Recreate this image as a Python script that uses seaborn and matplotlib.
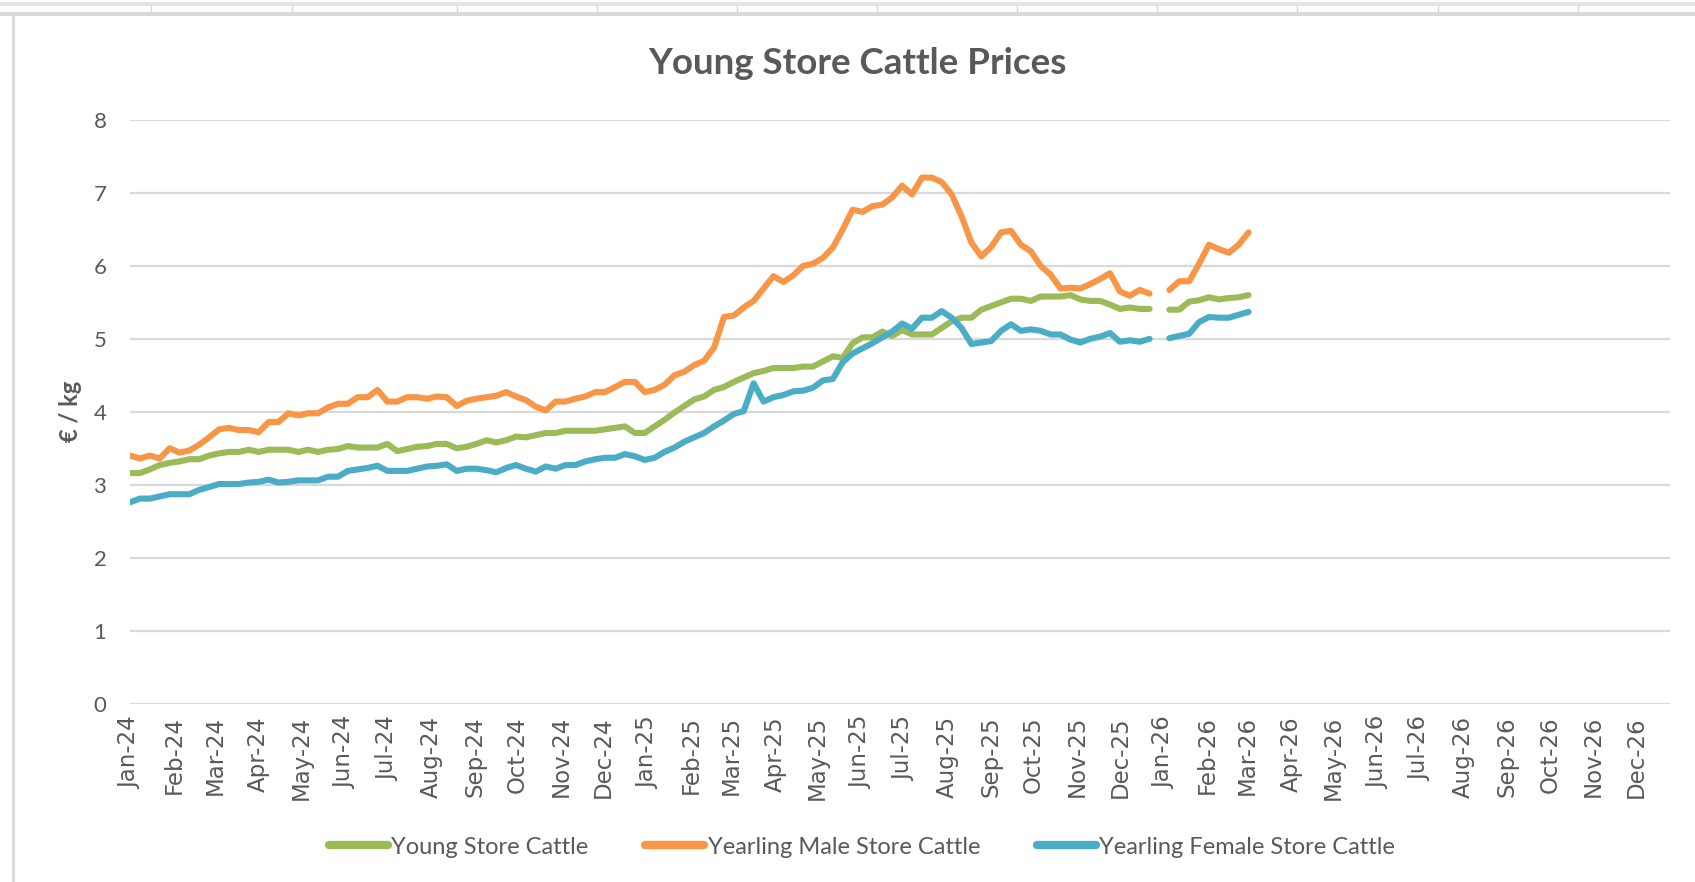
import pandas as pd
import matplotlib
matplotlib.use("Agg")
import matplotlib.pyplot as plt
import matplotlib.dates as mdates
from matplotlib.lines import Line2D
import seaborn as sns

# weekly prices (EUR/kg); first run from Jan-2024 to late Dec-2025, second run from Jan-2026
start_run1 = "2024-01-01"
start_run2 = "2026-01-05"

young_run1 = [
    3.16, 3.16, 3.21, 3.27, 3.30, 3.32, 3.35, 3.35, 3.40, 3.43,
    3.45, 3.45, 3.48, 3.45, 3.48, 3.48, 3.48, 3.45, 3.48, 3.45,
    3.48, 3.49, 3.53, 3.51, 3.51, 3.51, 3.56, 3.46, 3.49, 3.52,
    3.53, 3.56, 3.56, 3.50, 3.52, 3.56, 3.61, 3.58, 3.61, 3.66,
    3.65, 3.68, 3.71, 3.71, 3.74, 3.74, 3.74, 3.74, 3.76, 3.78,
    3.80, 3.71, 3.71, 3.80, 3.89, 3.99, 4.08, 4.17, 4.21, 4.30,
    4.34, 4.41, 4.47, 4.53, 4.56, 4.60, 4.60, 4.60, 4.62, 4.62,
    4.69, 4.76, 4.74, 4.94, 5.02, 5.02, 5.10, 5.04, 5.12, 5.06,
    5.06, 5.06, 5.15, 5.24, 5.29, 5.29, 5.40, 5.45, 5.50, 5.55,
    5.55, 5.52, 5.58, 5.58, 5.58, 5.60, 5.54, 5.52, 5.52, 5.47,
    5.41, 5.43, 5.41, 5.41,
]
young_run2 = [5.40, 5.40, 5.51, 5.53, 5.57, 5.54, 5.56, 5.57, 5.60]

male_run1 = [
    3.40, 3.36, 3.40, 3.36, 3.50, 3.44, 3.47, 3.55, 3.65, 3.76,
    3.78, 3.75, 3.75, 3.72, 3.86, 3.86, 3.98, 3.95, 3.98, 3.98,
    4.06, 4.11, 4.11, 4.20, 4.20, 4.30, 4.14, 4.14, 4.20, 4.20,
    4.18, 4.21, 4.20, 4.08, 4.15, 4.18, 4.20, 4.22, 4.27, 4.21,
    4.16, 4.07, 4.02, 4.14, 4.14, 4.18, 4.21, 4.27, 4.27, 4.34,
    4.41, 4.41, 4.27, 4.30, 4.37, 4.50, 4.55, 4.64, 4.70, 4.88,
    5.30, 5.32, 5.43, 5.52, 5.69, 5.86, 5.78, 5.87, 6.00, 6.03,
    6.11, 6.25, 6.50, 6.77, 6.74, 6.82, 6.84, 6.94, 7.10, 6.98,
    7.21, 7.21, 7.15, 6.98, 6.68, 6.32, 6.13, 6.26, 6.46, 6.48,
    6.29, 6.20, 6.00, 5.88, 5.69, 5.70, 5.69, 5.75, 5.82, 5.90,
    5.65, 5.59, 5.67, 5.62,
]
male_run2 = [5.67, 5.79, 5.79, 6.03, 6.29, 6.23, 6.18, 6.29, 6.46]

female_run1 = [
    2.76, 2.81, 2.81, 2.84, 2.87, 2.87, 2.87, 2.93, 2.97, 3.01,
    3.01, 3.01, 3.03, 3.04, 3.07, 3.03, 3.04, 3.06, 3.06, 3.06,
    3.11, 3.11, 3.19, 3.21, 3.23, 3.26, 3.19, 3.19, 3.19, 3.22,
    3.25, 3.26, 3.28, 3.19, 3.22, 3.22, 3.20, 3.17, 3.23, 3.27,
    3.22, 3.18, 3.25, 3.22, 3.27, 3.27, 3.32, 3.35, 3.37, 3.37,
    3.42, 3.39, 3.34, 3.37, 3.45, 3.51, 3.59, 3.65, 3.71, 3.80,
    3.88, 3.97, 4.01, 4.39, 4.14, 4.20, 4.23, 4.28, 4.29, 4.33,
    4.43, 4.45, 4.68, 4.80, 4.87, 4.94, 5.02, 5.10, 5.21, 5.14,
    5.29, 5.29, 5.38, 5.29, 5.15, 4.93, 4.95, 4.97, 5.11, 5.20,
    5.11, 5.13, 5.11, 5.06, 5.06, 4.99, 4.95, 5.00, 5.03, 5.08,
    4.96, 4.98, 4.96, 5.00,
]
female_run2 = [5.01, 5.04, 5.07, 5.23, 5.30, 5.29, 5.29, 5.33, 5.37]

series_names = ["Young Store Cattle", "Yearling Male Store Cattle", "Yearling Female Store Cattle"]
series_colors = ["#9BBB59", "#F79646", "#4BACC6"]
y_ticks = [0, 1, 2, 3, 4, 5, 6, 7, 8]

TEXT_GREY = "#595959"
GRID_GREY = "#D9D9D9"

# long table, one "run" id per unbroken stretch so the holiday gap stays open
rows = []
for name, run1, run2 in zip(series_names,
                            [young_run1, male_run1, female_run1],
                            [young_run2, male_run2, female_run2]):
    for run_id, start, vals in [(1, start_run1, run1), (2, start_run2, run2)]:
        dates = pd.date_range(start, periods=len(vals), freq="7D")
        for d, v in zip(dates, vals):
            rows.append({"date": d, "price": v, "series": name, "run": run_id})
df = pd.DataFrame(rows)

sns.set_theme(style="white")
plt.rcParams["font.family"] = ["Lato", "DejaVu Sans"]

W, H = 1695, 882
fig = plt.figure(figsize=(W / 100, H / 100), dpi=100)
fig.patch.set_facecolor("white")

# axes box in pixels: left 130, right 1670, top 120, bottom 703.6
ax = fig.add_axes([130 / W, 1 - 703.6 / H, (1670 - 130) / W, (703.6 - 120) / H])

sns.lineplot(data=df, x="date", y="price", hue="series", units="run", estimator=None,
             hue_order=series_names, palette=series_colors, lw=4.4, legend=False, ax=ax)
for ln in ax.lines:
    ln.set_solid_capstyle("round")
    ln.set_solid_joinstyle("round")

ax.set_ylim(0, 8)
ax.set_xlim(pd.Timestamp("2024-01-01"), pd.Timestamp("2026-12-25"))
ax.set_yticks(y_ticks)
ax.yaxis.grid(True, color=GRID_GREY, lw=1.6)
ax.xaxis.grid(False)
ax.set_axisbelow(True)
for s in ax.spines.values():
    s.set_visible(False)

ax.xaxis.set_major_locator(mdates.MonthLocator())
ax.xaxis.set_major_formatter(mdates.DateFormatter("%b-%y"))
ax.tick_params(axis="x", length=0, pad=9)
ax.tick_params(axis="y", length=0, pad=17)
for lab in ax.get_xticklabels():
    lab.set_rotation(90)
    lab.set_fontfamily("DejaVu Sans")
    lab.set_fontsize(16.5)
    lab.set_color(TEXT_GREY)
for lab in ax.get_yticklabels():
    lab.set_fontsize(16)
    lab.set_color(TEXT_GREY)

ax.set_xlabel("")
ax.set_ylabel("€ / kg", fontsize=17, fontweight="bold", color=TEXT_GREY)
ax.yaxis.set_label_coords(-0.031, 0.5)

fig.text(857 / W, 1 - 63 / H, "Young Store Cattle Prices", ha="center", va="center",
         fontsize=26.5, fontweight="bold", color=TEXT_GREY)

handles = [Line2D([0], [0], color=c, lw=6, solid_capstyle="round") for c in series_colors]
leg = fig.legend(handles, series_names, loc="center", bbox_to_anchor=(862 / W, 1 - 847 / H),
                 ncol=3, frameon=False, handlelength=2.5, handletextpad=0.15,
                 columnspacing=2.4, prop={"family": "Lato", "size": 17})
for t in leg.get_texts():
    t.set_color(TEXT_GREY)

# spreadsheet frame around the chart
border = "#D9D9D9"
fig.add_artist(Line2D([0, 1], [1 - 4 / H, 1 - 4 / H], color="#E4E4E4", lw=3, transform=fig.transFigure))
fig.add_artist(Line2D([0, 1], [1 - 14 / H, 1 - 14 / H], color=border, lw=3, transform=fig.transFigure))
for xc in [151, 292, 457, 597, 737, 877, 1017, 1157, 1297, 1438, 1578]:
    fig.add_artist(Line2D([xc / W, xc / W], [1 - 5 / H, 1 - 13 / H], color=border, lw=1,
                          transform=fig.transFigure))
fig.add_artist(Line2D([13 / W, 13 / W], [0, 1 - 14 / H], color=border, lw=2, transform=fig.transFigure))

fig.savefig("out.png", dpi=100)
